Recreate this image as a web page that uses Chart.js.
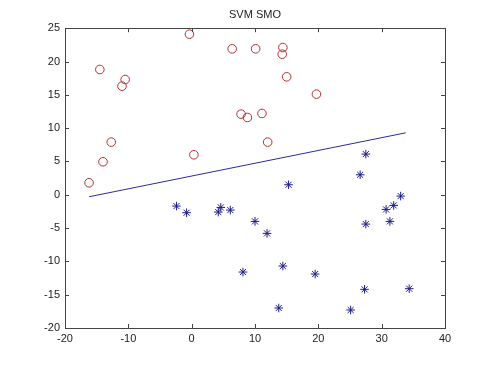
<!DOCTYPE html>
<html>
<head>
<meta charset="utf-8">
<script src="https://cdn.jsdelivr.net/npm/chart.js@4"></script>
<style>
  body { margin: 0; background: #fff; }
</style>
</head>
<body>
<canvas id="svmChart" width="491" height="368"></canvas>
<script>
// class +1 (red circles)
const redX = [-16.2, -14.5, -14.0, -12.7, -11.0, -10.5, -0.35, 0.35, 6.4, 7.8, 8.8, 10.1, 11.1, 12.0, 14.4, 14.3, 15.0, 19.7];
const redY = [1.8, 18.8, 4.95, 7.9, 16.3, 17.3, 24.1, 6.0, 21.9, 12.1, 11.6, 21.9, 12.2, 7.9, 22.1, 21.1, 17.7, 15.1];

// class -1 (blue stars)
const blueX = [15.3, -2.4, -0.8, 4.2, 4.6, 6.1, 10.0, 11.9, 8.1, 14.4, 13.75, 19.5, 25.1, 26.6, 27.5, 27.3, 30.7, 31.3, 31.9, 33.0, 34.35, 27.5];
const blueY = [1.5, -1.7, -2.7, -2.6, -1.9, -2.3, -4.0, -5.8, -11.6, -10.7, -17.0, -11.9, -17.3, 3.0, -4.4, -14.2, -2.2, -4.0, -1.6, -0.2, -14.1, 6.1];

// separating line
const lineX = [-16.2, 33.8];
const lineY = [-0.3, 9.3];

const xTicks = [-20, -10, 0, 10, 20, 30, 40];
const yTicks = [-20, -15, -10, -5, 0, 5, 10, 15, 20, 25];

const toPoints = (xs, ys) => xs.map((x, i) => ({ x: x, y: ys[i] }));

// box with inward ticks like matlab axes
const frameTicks = {
    id: 'frameTicks',
    afterDatasetsDraw(chart) {
        const ctx = chart.ctx;
        const a = chart.chartArea;
        const xs = chart.scales.x;
        const ys = chart.scales.y;
        ctx.save();
        ctx.strokeStyle = '#444';
        ctx.lineWidth = 1;
        ctx.strokeRect(Math.round(a.left) + 0.5, Math.round(a.top) + 0.5, Math.round(a.right - a.left), Math.round(a.bottom - a.top));
        ctx.beginPath();
        xTicks.forEach(v => {
            const px = Math.round(xs.getPixelForValue(v)) + 0.5;
            ctx.moveTo(px, a.bottom); ctx.lineTo(px, a.bottom - 4);
            ctx.moveTo(px, a.top); ctx.lineTo(px, a.top + 4);
        });
        yTicks.forEach(v => {
            const py = Math.round(ys.getPixelForValue(v)) + 0.5;
            ctx.moveTo(a.left, py); ctx.lineTo(a.left + 4, py);
            ctx.moveTo(a.right, py); ctx.lineTo(a.right - 4, py);
        });
        ctx.stroke();
        ctx.restore();
    }
};

const ctx = document.getElementById('svmChart').getContext('2d');
const chart = new Chart(ctx, {
    type: 'scatter',
    data: {
        datasets: [{
                label: 'line',
                data: toPoints(lineX, lineY),
                showLine: true,
                borderColor: '#2b2b9c',
                borderWidth: 1,
                pointRadius: 0,
                fill: false
            }, {
                label: 'class 1',
                data: toPoints(redX, redY),
                pointStyle: 'circle',
                pointRadius: 4.3,
                borderColor: '#b03232',
                backgroundColor: 'rgba(0,0,0,0)',
                pointBorderWidth: 1
            }, {
                label: 'class -1',
                data: toPoints(blueX, blueY),
                pointStyle: 'star',
                pointRadius: 4.3,
                borderColor: '#1c1c8a',
                backgroundColor: '#1c1c8a',
                pointBorderWidth: 1
            }]
    },
    options: {
        responsive: false,
        animation: false,
        layout: { padding: { top: 0, right: 46, bottom: 0, left: 0 } },
        plugins: {
            legend: { display: false },
            tooltip: { enabled: false },
            title: {
                display: true,
                fullSize: false,
                text: 'SVM SMO',
                color: '#222',
                font: { family: 'Liberation Sans, Arial, sans-serif', size: 11, weight: 'normal' },
                padding: { top: 8, bottom: 7 }
            }
        },
        scales: {
            x: {
                type: 'linear',
                min: -20,
                max: 40,
                afterFit: (s) => { s.height = 40; },
                afterBuildTicks: (s) => { s.ticks = xTicks.map(v => ({ value: v })); },
                grid: { display: false, drawTicks: false },
                border: { display: false },
                ticks: {
                    padding: 4,
                    color: '#222',
                    font: { family: 'Liberation Sans, Arial, sans-serif', size: 11 }
                }
            },
            y: {
                type: 'linear',
                min: -20,
                max: 25,
                afterFit: (s) => { s.width = 65; },
                afterBuildTicks: (s) => { s.ticks = yTicks.map(v => ({ value: v })); },
                grid: { display: false, drawTicks: false },
                border: { display: false },
                ticks: {
                    padding: 5,
                    color: '#222',
                    font: { family: 'Liberation Sans, Arial, sans-serif', size: 11 }
                }
            }
        }
    },
    plugins: [frameTicks]
});
</script>
</body>
</html>
